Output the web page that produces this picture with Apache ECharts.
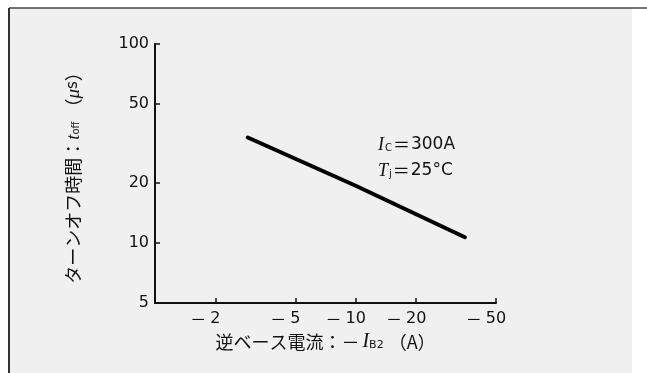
<!DOCTYPE html>
<html>
<head>
<meta charset="utf-8">
<script src="https://cdn.jsdelivr.net/npm/echarts@6/dist/echarts.min.js"></script>
<style>
  html, body { margin: 0; padding: 0; background: #fff; }
  #main { width: 647px; height: 373px; }
</style>
</head>
<body>
<div id="main"></div>
<script>
// 逆ベース電流 -IB2 (A) の大きさ と ターンオフ時間 toff (μs)
var ib2 = [2.9, 10, 35];
var toff = [33.9, 19.4, 10.7];
// 目盛り
var xTicks = [2, 5, 10, 20, 50];
var yTicks = [5, 10, 20, 50, 100];

var lg = function (v) { return Math.log10(v); };
var lineData = ib2.map(function (v, i) { return [lg(v), lg(toff[i])]; });

var numFont = '"DejaVu Sans", sans-serif';
var jpFont = '"Noto Sans CJK JP", sans-serif';
var itFont = '"Liberation Serif", serif';

var noteRich = {
  i: { fontFamily: itFont, fontStyle: 'italic', fontSize: 18, fill: '#111' },
  s: { fontFamily: numFont, fontSize: 10, fill: '#111', padding: [7, 0, 0, 1] },
  e: { fontFamily: jpFont, fontSize: 17, fill: '#111', padding: [0, 1, 0, 1] },
  t: { fontFamily: numFont, fontSize: 17, fill: '#111' }
};

var myChart = echarts.init(document.getElementById('main'));
var option = {
  backgroundColor: '#fff',
  animation: false,
  grid: { left: 155, right: 151, top: 44, bottom: 70 },
  graphic: [
    { type: 'rect', shape: { x: 9, y: 8, width: 623, height: 365 }, style: { fill: '#f0f0f0' }, z: -10 },
    { type: 'line', shape: { x1: 9, y1: 8, x2: 647, y2: 8 }, style: { stroke: '#444', lineWidth: 1.5 }, z: -5 },
    { type: 'line', shape: { x1: 9, y1: 8, x2: 9, y2: 373 }, style: { stroke: '#333', lineWidth: 2 }, z: -5 },
    {
      type: 'text', left: 378, top: 136,
      style: { text: '{i|I}{s|C}{e|＝}{t|300A}', rich: noteRich }
    },
    {
      type: 'text', left: 378, top: 162,
      style: { text: '{i|T}{s|j}{e|＝}{t|25°C}', rich: noteRich }
    }
  ],
  xAxis: {
    type: 'value',
    min: lg(1),
    max: lg(50),
    name: '{t|逆ベース電流：－}{i|I}{s|B2}{t|（A）}',
    nameLocation: 'middle',
    nameGap: 27,
    nameTextStyle: {
      rich: {
        t: { fontFamily: jpFont, fontSize: 18, color: '#111' },
        i: { fontFamily: itFont, fontStyle: 'italic', fontSize: 20, color: '#111', padding: [0, 0, 0, 3] },
        s: { fontFamily: numFont, fontSize: 11, color: '#111', padding: [6, 5, 0, 0] }
      }
    },
    axisLine: { show: true, lineStyle: { color: '#111', width: 2 } },
    axisTick: { show: true, inside: true, length: 5, lineStyle: { color: '#111', width: 1.5 }, customValues: xTicks.map(lg) },
    axisLabel: {
      customValues: xTicks.map(lg),
      margin: 8,
      formatter: function (v) { return '{m|－}{n|' + Math.round(Math.pow(10, v)) + '}{p| }'; },
      rich: {
        m: { fontFamily: jpFont, fontSize: 16, color: '#111', padding: [0, 4, 0, 0] },
        n: { fontFamily: numFont, fontSize: 16, color: '#111' },
        p: { fontFamily: numFont, fontSize: 16, width: 20 }
      }
    },
    splitLine: { show: false }
  },
  yAxis: {
    type: 'value',
    min: lg(5),
    max: lg(100),
    name: '{t|ターンオフ時間：}{i|t}{s|off}{t|（}{i|μ}{u|s}{t|）}',
    nameLocation: 'middle',
    nameGap: 72,
    nameTextStyle: {
      rich: {
        t: { fontFamily: jpFont, fontSize: 18, color: '#111' },
        i: { fontFamily: itFont, fontStyle: 'italic', fontSize: 19, color: '#111' },
        u: { fontFamily: numFont, fontSize: 15, color: '#111' },
        s: { fontFamily: numFont, fontSize: 10, color: '#111', padding: [6, 5, 0, 0] }
      }
    },
    axisLine: { show: true, lineStyle: { color: '#111', width: 2 } },
    axisTick: { show: true, inside: true, length: 5, lineStyle: { color: '#111', width: 1.5 }, customValues: yTicks.map(lg) },
    axisLabel: {
      customValues: yTicks.map(lg),
      margin: 6,
      fontFamily: numFont,
      fontSize: 16,
      color: '#111',
      formatter: function (v) { return String(Math.round(Math.pow(10, v))); }
    },
    splitLine: { show: false }
  },
  series: [{
    type: 'line',
    data: lineData,
    symbol: 'none',
    lineStyle: { color: '#000', width: 4, cap: 'round' }
  }]
};
myChart.setOption(option);
</script>
</body>
</html>
